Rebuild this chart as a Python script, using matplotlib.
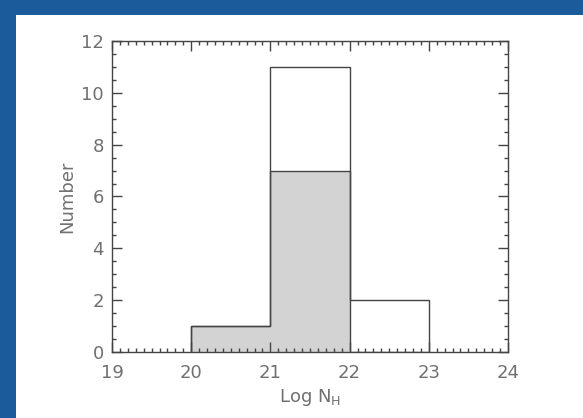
import matplotlib.pyplot as plt
from matplotlib.patches import Rectangle
from matplotlib.ticker import MultipleLocator

# histogram bins (log N_H) and counts
bin_edges = [20, 21, 22, 23]
all_counts = [1, 11, 2]
shaded_counts = [1, 7, 0]

txt = "#707070"
edge = "#444444"

fig = plt.figure(figsize=(5.83, 4.18), dpi=100)
fig.patch.set_facecolor("#1b5b9c")
# white slide panel
fig.patches.append(Rectangle((16 / 583, 0), 1, 1 - 15 / 418, transform=fig.transFigure,
                             facecolor="white", edgecolor="none", zorder=-10))

ax = fig.add_axes([112 / 583, 1 - 352 / 418, (508 - 112) / 583, (352 - 41) / 418])
ax.set_zorder(5)

ax.stairs(shaded_counts, bin_edges, fill=True, facecolor="#d3d3d3", edgecolor="none")
ax.stairs(shaded_counts, bin_edges, color=edge, lw=1.0)
ax.stairs(all_counts, bin_edges, color=edge, lw=1.0)

ax.set_xlim(19, 24)
ax.set_ylim(0, 12)
ax.xaxis.set_major_locator(MultipleLocator(1))
ax.xaxis.set_minor_locator(MultipleLocator(0.1))
ax.yaxis.set_major_locator(MultipleLocator(2))
ax.yaxis.set_minor_locator(MultipleLocator(0.5))
ax.tick_params(which="both", direction="in", top=True, right=True, color=edge,
               labelcolor=txt, labelsize=13)
ax.tick_params(which="major", length=7, width=1)
ax.tick_params(which="minor", length=3, width=1)
ax.tick_params(axis="x", pad=9)
ax.tick_params(axis="y", pad=6)
for s in ax.spines.values():
    s.set_color(edge)
    s.set_linewidth(1)

ax.set_xlabel("Log N$_\\mathregular{H}$", color=txt, fontsize=13)
ax.set_ylabel("Number", color=txt, fontsize=13)
ax.xaxis.set_label_coords(0.5, -0.145)
ax.yaxis.set_label_coords(-0.114, 0.5)
ax.xaxis.label.set_va("center")
ax.yaxis.label.set_va("center")

fig.savefig("out.png", dpi=100, facecolor=fig.get_facecolor())
